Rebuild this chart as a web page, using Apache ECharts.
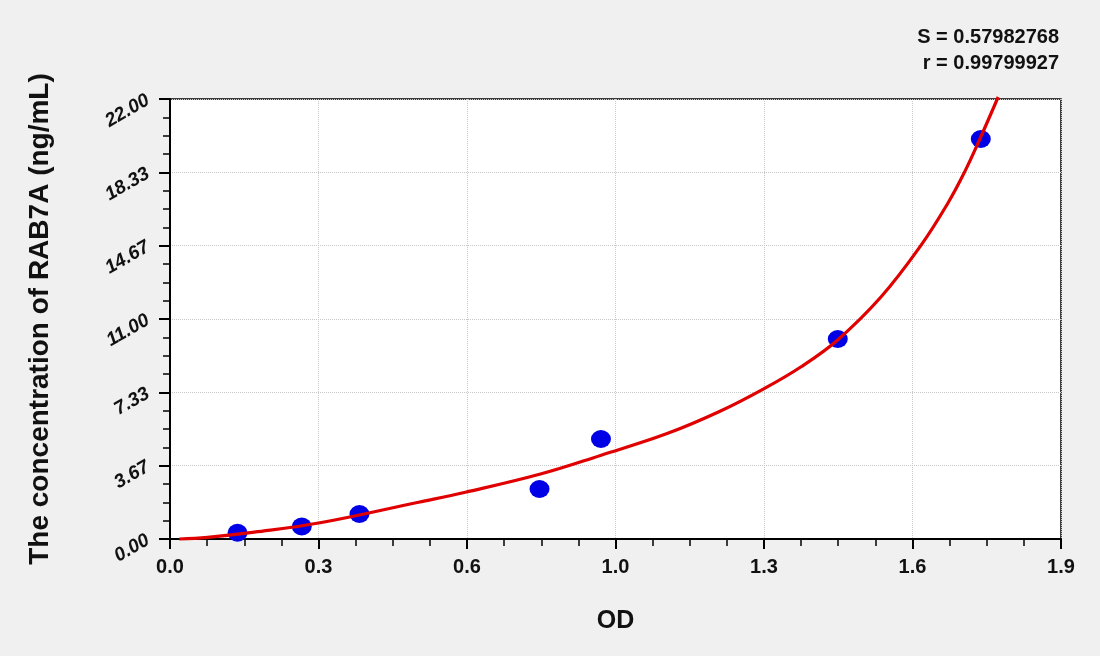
<!DOCTYPE html>
<html>
<head>
<meta charset="utf-8">
<script src="https://cdn.jsdelivr.net/npm/echarts@6/dist/echarts.min.js"></script>
<style>
html, body { margin: 0; padding: 0; background: #f0f0f0; }
#container { width: 1100px; height: 656px; }
</style>
</head>
<body>
<div id="container"></div>
<script>
var dom     = document.getElementById("container");
var myChart = echarts.init(dom);

// tick labels as printed on the chart
var xLabels = ['0.0', '0.3', '0.6', '1.0', '1.3', '1.6', '1.9'];
var yLabels = ['0.00', '3.67', '7.33', '11.00', '14.67', '18.33', '22.00'];

// standards (OD, concentration)
var stdOD   = [0.144, 0.281, 0.404, 0.788, 0.919, 1.424, 1.729];
var stdConc = [0.3125, 0.625, 1.25, 2.5, 5, 10, 20];

// fitted curve
var curveOD   = [0.02, 0.08, 0.18, 0.32, 0.53, 0.63, 0.79, 0.918, 1.06, 1.174, 1.267, 1.345, 1.423, 1.516, 1.601, 1.659, 1.694, 1.726, 1.766];
var curveConc = [0.0, 0.08, 0.34, 0.81, 1.84, 2.34, 3.25, 4.18, 5.27, 6.4, 7.52, 8.6, 9.94, 12.1, 14.67, 16.8, 18.33, 19.95, 22.1];

var statS = 'S = 0.57982768';
var statR = 'r = 0.99799927';

var xStep = 1.9 / 6;
var yStep = 22 / 6;

function pairs(a, b) {
    var out = [];
    for (var i = 0; i < a.length; i++) {
        out.push([a[i], b[i]]);
    }
    return out;
}

var font = 'Liberation Sans, Arial, sans-serif';

option = {
    backgroundColor: '#f0f0f0',
    animation: false,
    grid: {
        left: 170,
        right: 39,
        top: 99,
        bottom: 117,
        show: true,
        backgroundColor: '#fff',
        borderColor: '#000',
        borderWidth: 1.5
    },
    graphic: [
        {
            type: 'text', right: 41, top: 27,
            style: { text: statS, font: 'bold 20px ' + font, fill: '#111', textAlign: 'right' }
        },
        {
            type: 'text', right: 41, top: 53,
            style: { text: statR, font: 'bold 20px ' + font, fill: '#111', textAlign: 'right' }
        }
    ],
    xAxis: {
        type: 'value',
        min: 0,
        max: 1.9,
        interval: xStep,
        name: 'OD',
        nameLocation: 'middle',
        nameGap: 70,
        nameTextStyle: { fontFamily: font, fontWeight: 'bold', fontSize: 25, color: '#111' },
        axisLine: { show: true, onZero: false, lineStyle: { color: '#000', width: 2 } },
        axisTick: { show: true, length: 10, lineStyle: { color: '#000', width: 2 } },
        minorTick: { show: true, splitNumber: 4, length: 7, lineStyle: { color: '#000', width: 1.5 } },
        axisLabel: {
            margin: 18,
            fontFamily: font, fontWeight: 'bold', fontSize: 20, color: '#111',
            formatter: function (v) { return xLabels[Math.round(v / xStep)]; }
        },
        splitLine: { show: true, lineStyle: { color: '#c8c8c8', type: 'dotted', width: 1 } }
    },
    yAxis: {
        type: 'value',
        min: 0,
        max: 22,
        interval: yStep,
        name: 'The concentration of RAB7A (ng/mL)',
        nameLocation: 'middle',
        nameGap: 116,
        nameTextStyle: { fontFamily: font, fontWeight: 'bold', fontSize: 28, color: '#111' },
        axisLine: { show: true, onZero: false, lineStyle: { color: '#000', width: 2 } },
        axisTick: { show: true, length: 11, lineStyle: { color: '#000', width: 2 } },
        minorTick: { show: true, splitNumber: 4, length: 7, lineStyle: { color: '#000', width: 1.5 } },
        axisLabel: {
            margin: 22,
            rotate: 30,
            fontFamily: font, fontWeight: 'bold', fontStyle: 'italic', fontSize: 19, color: '#111',
            formatter: function (v) { return yLabels[Math.round(v / yStep)]; }
        },
        splitLine: { show: true, lineStyle: { color: '#c8c8c8', type: 'dotted', width: 1 } }
    },
    series: [
        {
            name: 'standards',
            type: 'scatter',
            data: pairs(stdOD, stdConc),
            symbol: 'circle',
            symbolSize: [20, 18],
            itemStyle: { color: '#0000e6', opacity: 1 },
            z: 2
        },
        {
            name: 'fit',
            type: 'line',
            data: pairs(curveOD, curveConc),
            smooth: 0.4,
            showSymbol: false,
            clip: false,
            lineStyle: { color: '#e00000', width: 3.2 },
            z: 3
        }
    ]
};

myChart.setOption(option);
</script>
</body>
</html>
